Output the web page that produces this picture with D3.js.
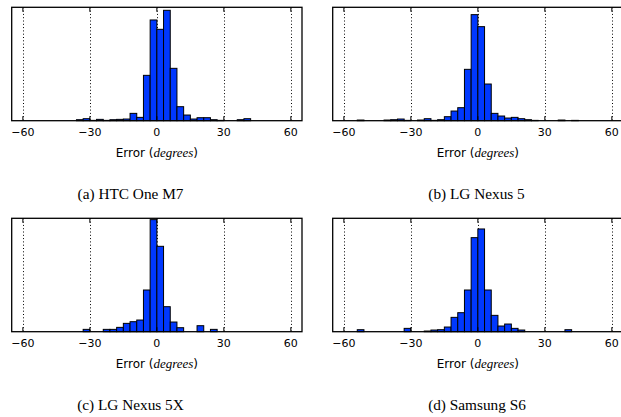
<!DOCTYPE html>
<html>
<head>
<meta charset="utf-8">
<script src="https://cdn.jsdelivr.net/npm/d3@7"></script>
<style>
  body { margin: 0; background: #fff; }
  svg { display: block; }
</style>
</head>
<body>
<svg id="chart" width="621" height="417"></svg>
<script>
// left edge of each 3-degree bin
const binLefts = [-54, -51, -48, -45, -42, -39, -36, -33, -30, -27, -24, -21, -18, -15, -12, -9, -6, -3,
  0, 3, 6, 9, 12, 15, 18, 21, 24, 27, 30, 33, 36, 39, 42]
const binWidth = 3

const htcCounts = [0, 0, 0, 0, 0, 0, 3, 6, 1, 4, 1, 3, 4, 5, 22, 10, 136, 302,
  274, 331, 157, 42, 17, 5, 9, 9, 3, 1, 0, 0, 3, 6, 0]
const nexus5Counts = [2, 0, 0, 0, 2, 3, 5, 1, 0, 2, 6, 1, 3, 12, 29, 39, 154, 318,
  282, 110, 22, 14, 8, 10, 6, 3, 1, 0, 0, 0, 2, 0, 1]
const nexus5xCounts = [0, 0, 0, 0, 0, 0, 0, 7, 0, 0, 7, 7, 13, 25, 30, 35, 125, 336,
  256, 75, 29, 12, 0, 0, 18, 0, 7, 0, 0, 0, 0, 0, 0]
const s6Counts = [6, 0, 0, 0, 0, 0, 0, 10, 0, 0, 2, 5, 6, 14, 43, 57, 125, 282,
  308, 125, 49, 17, 23, 10, 5, 0, 0, 0, 0, 0, 0, 6, 0]

const xTicks = [-60, -30, 0, 30, 60]
const xDomain = [-65, 65]
const yMax = 340
const captions = ['(a) HTC One M7', '(b) LG Nexus 5', '(c) LG Nexus 5X', '(d) Samsung S6']

const blue = '#0038ff'

const panels = [
  { counts: htcCounts, left: 11.7, top: 7.3, capX: 130.5, capY: 199 },
  { counts: nexus5Counts, left: 332.7, top: 7.3, capX: 476.5, capY: 199 },
  { counts: nexus5xCounts, left: 11.7, top: 218.3, capX: 130.5, capY: 410 },
  { counts: s6Counts, left: 332.7, top: 218.3, capX: 477, capY: 410 }
]
const panelW = 290.3
const panelH = 113.4

const svg = d3.select('#chart')

panels.forEach((p, idx) => {
  const g = svg.append('g').attr('transform', `translate(${p.left} ${p.top})`)
  const x = d3.scaleLinear().domain(xDomain).range([0, panelW])
  const y = d3.scaleLinear().domain([0, yMax]).range([panelH, 0])

  // dotted grid
  g.selectAll('line.grid')
    .data(xTicks)
    .enter()
    .append('line')
    .classed('grid', true)
    .attr('x1', d => Math.round(x(d) + p.left) - p.left + 0.5)
    .attr('x2', d => Math.round(x(d) + p.left) - p.left + 0.5)
    .attr('y1', 0).attr('y2', panelH)
    .attr('stroke', '#000')
    .attr('stroke-width', 1)
    .attr('stroke-dasharray', '1,2.3')

  const bins = binLefts.map((b, i) => ({ x0: b, n: p.counts[i] })).filter(d => d.n > 0)

  g.selectAll('rect.bar')
    .data(bins)
    .enter()
    .append('rect')
    .classed('bar', true)
    .attr('x', d => x(d.x0))
    .attr('width', d => x(d.x0 + binWidth) - x(d.x0))
    .attr('y', d => y(d.n))
    .attr('height', d => y(0) - y(d.n))
    .attr('fill', blue)
    .attr('stroke', '#000')
    .attr('stroke-width', 1)

  // ticks inside, top and bottom
  const tickLen = 4.5
  g.selectAll('line.tickb')
    .data(xTicks)
    .enter()
    .append('line')
    .attr('x1', d => x(d)).attr('x2', d => x(d))
    .attr('y1', panelH).attr('y2', panelH - tickLen)
    .attr('stroke', '#000').attr('stroke-width', 1)
  g.selectAll('line.tickt')
    .data(xTicks)
    .enter()
    .append('line')
    .attr('x1', d => x(d)).attr('x2', d => x(d))
    .attr('y1', 0).attr('y2', tickLen)
    .attr('stroke', '#000').attr('stroke-width', 1)

  g.append('rect')
    .attr('x', 0).attr('y', 0)
    .attr('width', panelW).attr('height', panelH)
    .attr('fill', 'none')
    .attr('stroke', '#000')
    .attr('stroke-width', 1.3)

  g.selectAll('text.ticklabel')
    .data(xTicks)
    .enter()
    .append('text')
    .attr('x', d => x(d))
    .attr('y', panelH + 15)
    .attr('text-anchor', 'middle')
    .attr('font-family', 'DejaVu Sans')
    .attr('font-size', 11)
    .text(d => d < 0 ? '\u2212' + Math.abs(d) : d)

  const lab = g.append('text')
    .attr('x', x(0))
    .attr('y', panelH + 36.3)
    .attr('text-anchor', 'middle')
    .attr('font-family', 'DejaVu Sans')
    .attr('font-size', 12)
  lab.append('tspan').text('Error (')
  lab.append('tspan')
    .attr('font-family', 'Liberation Serif')
    .attr('font-style', 'italic')
    .attr('font-size', 13)
    .text('degrees')
  lab.append('tspan').text(')')

  svg.append('text')
    .attr('x', p.capX)
    .attr('y', p.capY)
    .attr('text-anchor', 'middle')
    .attr('font-family', 'Liberation Serif')
    .attr('font-size', 15.3)
    .text(captions[idx])
})
</script>
</body>
</html>
